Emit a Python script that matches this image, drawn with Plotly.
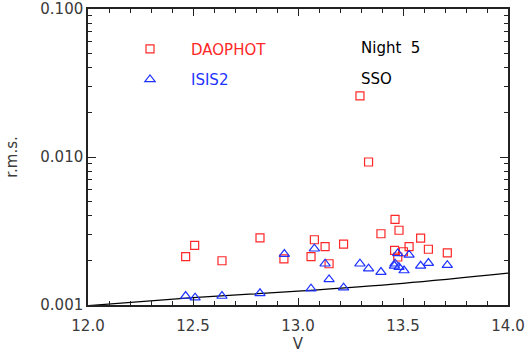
import plotly.graph_objects as go

# DAOPHOT (red squares)
dao_v = [13.295, 13.336, 12.465, 12.508, 12.638, 12.819, 12.933, 13.062, 13.078, 13.129, 13.148,
         13.217, 13.395, 13.462, 13.481, 13.460, 13.475, 13.502, 13.529, 13.584, 13.621, 13.711]
dao_rms = [0.0259, 0.00925, 0.00212, 0.00253, 0.00199, 0.00284, 0.00205, 0.00212, 0.00276, 0.00248, 0.00190,
           0.00258, 0.00303, 0.00379, 0.00320, 0.00234, 0.00211, 0.00229, 0.00248, 0.00283, 0.00238, 0.00225]

# ISIS2 (blue triangles)
isis_v = [12.465, 12.510, 12.638, 12.819, 12.935, 13.062, 13.078, 13.129, 13.148, 13.217, 13.295,
          13.336, 13.395, 13.459, 13.462, 13.475, 13.481, 13.505, 13.529, 13.584, 13.621, 13.711]
isis_rms = [0.00115, 0.00112, 0.00115, 0.00120, 0.00221, 0.00129, 0.00240, 0.00190, 0.00149, 0.00131, 0.00190,
            0.00176, 0.00167, 0.00184, 0.00190, 0.00223, 0.00180, 0.00171, 0.00218, 0.00184, 0.00192, 0.00186]

# noise curve
noise_v = [12.0, 12.5, 13.0, 13.5, 14.0]
noise_rms = [0.00099, 0.00112, 0.00124, 0.00140, 0.00164]

x_ticks = [12.0, 12.5, 13.0, 13.5, 14.0]
x_ticktext = ["12.0", "12.5", "13.0", "13.5", "14.0"]
y_ticks = [0.001, 0.01, 0.1]
y_ticktext = ["0.001", "0.010", "0.100"]

RED = "rgb(255,40,40)"
BLUE = "rgb(30,50,255)"
FONT = "DejaVu Sans"
TXT = "#3a3a3a"

fig = go.Figure()
fig.add_trace(go.Scatter(x=noise_v, y=noise_rms, mode="lines", line=dict(color="black", width=1.2),
                         showlegend=False, line_shape="spline"))
fig.add_trace(go.Scatter(x=dao_v, y=dao_rms, mode="markers",
                         name="<span style='color:%s'>DAOPHOT</span>" % RED, legendgroup="a",
                         marker=dict(symbol="square-open", size=8, color=RED, line=dict(width=1.2))))
fig.add_trace(go.Scatter(x=isis_v, y=isis_rms, mode="markers",
                         name="<span style='color:%s'>ISIS2</span>" % BLUE, legendgroup="b",
                         marker=dict(symbol="triangle-up-open", size=9, color=BLUE, line=dict(width=1.2))))

fig.add_annotation(text="Night\u00a0\u00a05", xref="paper", yref="paper", x=0.645, y=0.867,
                   xanchor="left", yanchor="middle", showarrow=False,
                   font=dict(family=FONT, size=15, color="black"))
fig.add_annotation(text="SSO", xref="paper", yref="paper", x=0.645, y=0.764,
                   xanchor="left", yanchor="middle", showarrow=False,
                   font=dict(family=FONT, size=15, color="black"))

axis_common = dict(ticks="inside", mirror="allticks", showline=True, linecolor="#222", linewidth=1.5,
                   showgrid=False, zeroline=False, tickcolor="#222", automargin=False,
                   tickfont=dict(family=FONT, size=15, color=TXT))

fig.update_xaxes(range=[12, 14], tickvals=x_ticks, ticktext=x_ticktext, ticklen=7, ticklabelstandoff=6,
                 minor=dict(ticks="inside", dtick=0.1, ticklen=4, tickcolor="#222", showgrid=False),
                 title=dict(text="V", font=dict(family=FONT, size=15, color=TXT), standoff=2),
                 **axis_common)
fig.update_yaxes(type="log", range=[-3, -1], tickvals=y_ticks, ticktext=y_ticktext, ticklen=8,
                 minor=dict(ticks="inside", dtick="D1", ticklen=4, tickcolor="#222", showgrid=False),
                 title=dict(text="r.m.s.", font=dict(family=FONT, size=15, color=TXT), standoff=19),
                 **axis_common)

fig.update_layout(width=528, height=353, margin=dict(l=88, r=20, t=9, b=48),
                  plot_bgcolor="white", paper_bgcolor="white",
                  legend=dict(x=0.05, y=0.92, xanchor="left", yanchor="top", bgcolor="rgba(0,0,0,0)",
                              itemwidth=72, tracegroupgap=8, traceorder="grouped",
                              font=dict(family=FONT, size=15)))

fig.write_html("out.html", config={"displayModeBar": False},
               post_script="document.body.style.margin='0';document.body.style.padding='0';")
